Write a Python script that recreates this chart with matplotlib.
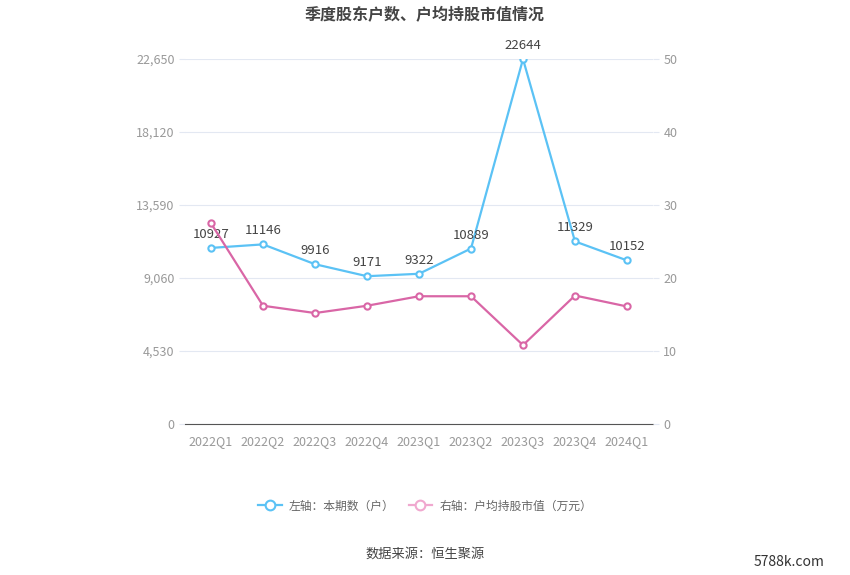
import matplotlib.pyplot as plt
from matplotlib.lines import Line2D

plt.rcParams['font.family'] = ['Noto Sans CJK SC', 'DejaVu Sans']

quarters = ['2022Q1', '2022Q2', '2022Q3', '2022Q4', '2023Q1', '2023Q2', '2023Q3', '2023Q4', '2024Q1']
holders = [10927, 11146, 9916, 9171, 9322, 10889, 22644, 11329, 10152]
avg_value = [27.5, 16.2, 15.2, 16.2, 17.5, 17.5, 10.8, 17.6, 16.1]

left_ticks = [0, 4530, 9060, 13590, 18120, 22650]
right_ticks = [0, 10, 20, 30, 40, 50]

blue = '#5bc2f5'
pink = '#d966a6'

fig = plt.figure(figsize=(8.5, 5.75), dpi=100)
ax = fig.add_axes([185 / 850, 1 - 424 / 575, 468 / 850, 365 / 575])
ax2 = ax.twinx()

x = range(len(quarters))
ax.plot(x, holders, color=blue, lw=1.6, marker='o', ms=4.5, mfc='white', mew=1.5, zorder=3)
for i, v in enumerate(holders):
    ax.annotate(str(v), (i, v), xytext=(0, 5), textcoords='offset points',
                ha='center', va='bottom', fontsize=9.5, color='#444444')

ax2.plot(x, avg_value, color=pink, lw=1.6, marker='o', ms=4.5, mfc='white', mew=1.5, zorder=3)

ax.set_xlim(-0.5, len(quarters) - 0.5)
ax.set_ylim(0, 22650)
ax2.set_ylim(0, 50)
ax.set_xticks(list(x))
ax.set_xticklabels(quarters)
ax.set_yticks(left_ticks)
ax.set_yticklabels([f'{t:,}' for t in left_ticks])
ax2.set_yticks(right_ticks)

ax.grid(axis='y', color='#e3e8f2', lw=0.8)
ax.set_axisbelow(True)
for a in (ax, ax2):
    for s in a.spines.values():
        s.set_visible(False)
    a.tick_params(colors='#999999', labelsize=9, length=4)
    a.tick_params(axis='y', color='#e3e8f2')
ax.spines['bottom'].set_visible(True)
ax.spines['bottom'].set_color('#555555')
ax.tick_params(axis='x', length=0, pad=8)

fig.text(0.5, 1 - 15 / 575, '季度股东户数、户均持股市值情况', ha='center', va='center',
         fontsize=11.5, fontweight='bold', color='#444444')

handles = [
    Line2D([], [], color=blue, lw=1.6, marker='o', ms=7, mfc='white', mew=1.5),
    Line2D([], [], color='#f0a8cf', lw=1.6, marker='o', ms=7, mfc='white', mew=1.5),
]
fig.legend(handles, ['左轴：本期数（户）', '右轴：户均持股市值（万元）'], loc='center',
           bbox_to_anchor=(0.5, 1 - 506 / 575), ncol=2, frameon=False, fontsize=8.5,
           labelcolor='#666666', handlelength=2.0, handletextpad=0.6, columnspacing=1.2)

fig.text(0.5, 1 - 554 / 575, '数据来源：恒生聚源', ha='center', va='center', fontsize=9.5, color='#444444')
fig.text(0.97, 1 - 562 / 575, '5788k.com', ha='right', va='center', fontsize=10, color='#333333')

fig.savefig('out.png')
